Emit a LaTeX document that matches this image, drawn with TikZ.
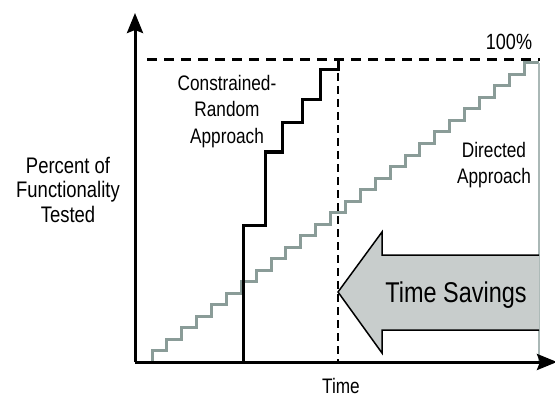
\documentclass[tikz,border=0pt]{standalone}
\usepackage{fontspec}
\setmainfont{Liberation Sans}[FakeStretch=0.82]
\usetikzlibrary{arrows.meta}
\definecolor{stairgray}{RGB}{138,156,152}
\definecolor{arrowfill}{RGB}{200,205,204}
\definecolor{edgegray}{RGB}{170,184,182}
\begin{document}
\begin{tikzpicture}[x=1pt,y=-1pt,
  axis/.style={line width=3pt,-{Stealth[length=20pt,width=16pt,inset=3pt]}},
  label/.style={font=\fontsize{21}{25.5}\selectfont,align=center,anchor=base,inner sep=0pt}]

\useasboundingbox (0,0) rectangle (555,396);
\coordinate (o) at (135,362);
\coordinate (ytop) at (135,13);
\coordinate (xend) at (557,362);
\coordinate (corner) at (338,60);

\draw[stairgray,line width=3pt] (152,362)
  \foreach \i in {1,...,26} { -- ++(0,-11.5) -- ++(14.885,0) };
\draw[edgegray,line width=1.5pt] (539,63) -- (539,362);
\draw[line width=3pt] (243,362) -- (243,225) -- (265,225) -- (265,152) -- (282,152)
  -- (282,123) -- (302,123) -- (302,100) -- (320,100) -- (320,70) -- (338,70) -- (corner);
\draw[line width=3pt,dash pattern=on 10pt off 7pt] (147,60) -- (corner) -- (540,60);
\draw[line width=2.2pt,dash pattern=on 8pt off 5pt] (corner) -- (338,362);

\fill[arrowfill] (338,292) -- (382,232) -- (382,255) -- (539,255) -- (539,330)
  -- (382,330) -- (382,353) -- cycle;
\draw[line width=1.5pt,line join=miter] (539,255) -- (382,255) -- (382,232) -- (338,292)
  -- (382,353) -- (382,330) -- (539,330);

\draw[axis] (o) -- (ytop);
\draw[axis] (o) -- (xend);

\node[label,font=\fontsize{22.5}{24.5}\selectfont] (ylabel) at (68,222) {Percent of\\Functionality\\Tested};
\node[label,font=\fontsize{21}{26.5}\selectfont] (randlabel) at (227,143) {Constrained-\\Random\\Approach};
\node[label] (dirlabel) at (494,183) {Directed\\Approach};
\node[label,font=\fontsize{22}{25}\selectfont] (full) at (509,50) {100\%};
\node[label] (timelabel) at (341,393) {Time};
\node[label,font=\fontsize{28.6}{30}\selectfont] (savings) at (456,302) {Time Savings};

\end{tikzpicture}
\end{document}
